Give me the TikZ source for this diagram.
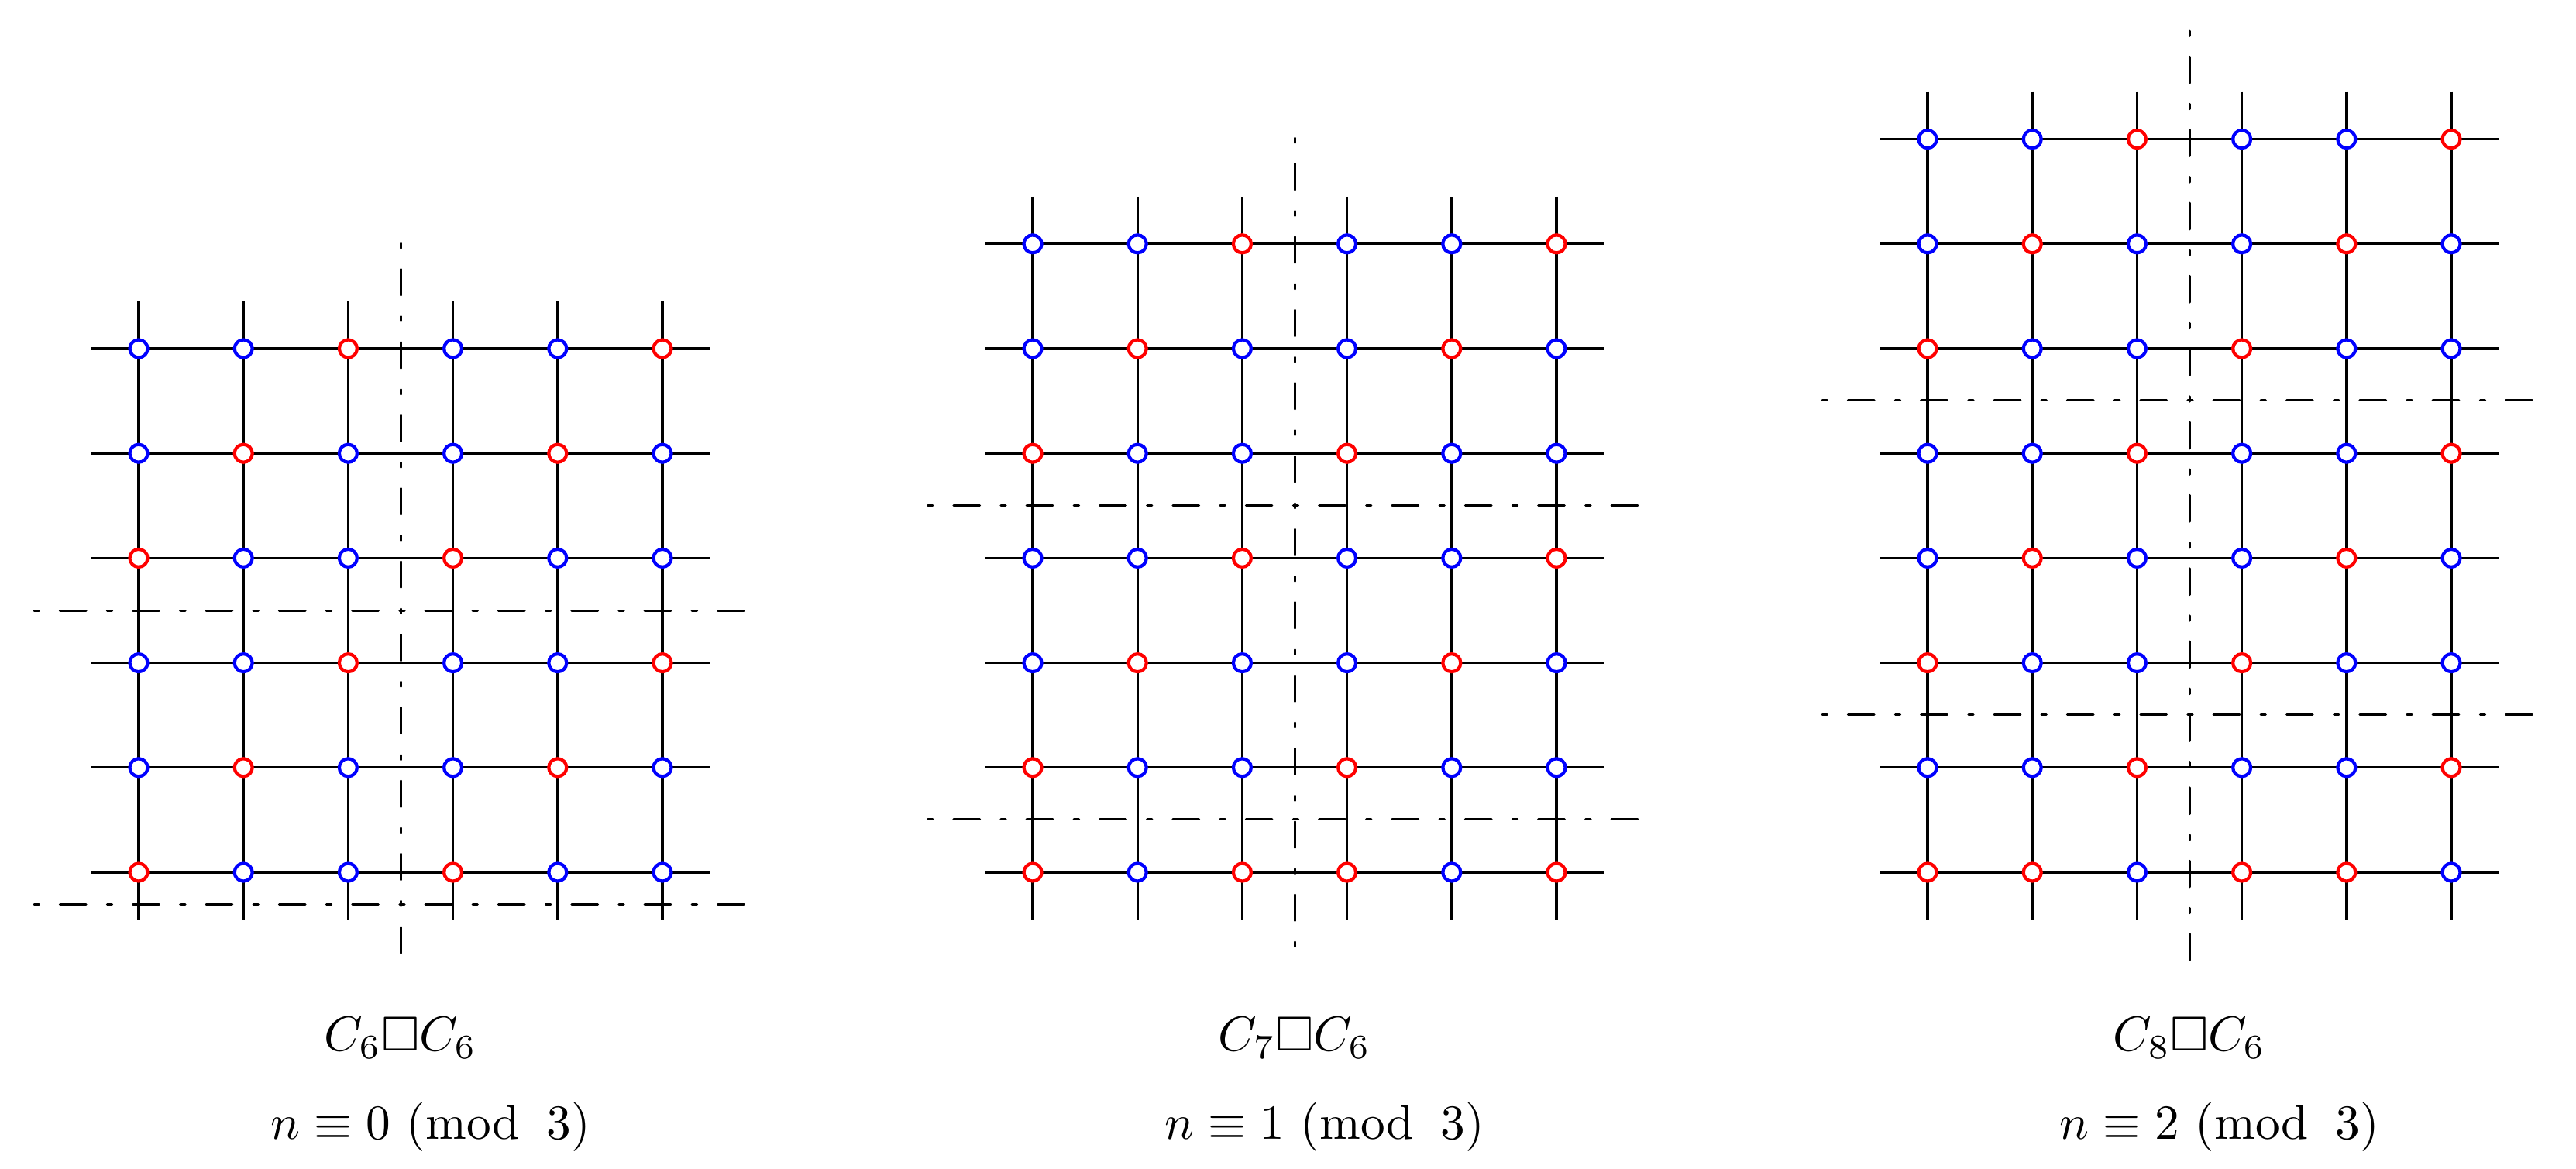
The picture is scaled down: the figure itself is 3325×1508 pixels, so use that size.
\documentclass[tikz,border=0pt]{standalone}
\usepackage{amssymb}
\usetikzlibrary{backgrounds}
\tikzset{
  vtx/.style={circle, line width=1.2pt, fill=white, minimum size=0.23cm, inner sep=0pt, outer sep=0pt},
  vb/.style={vtx, draw=blue},
  vr/.style={vtx, draw=red},
  gridline/.style={line width=0.95pt, draw=black},
  symline/.style={line width=0.85pt, draw=black, line cap=round, dash pattern=on 0.063cm off 0.27cm on 0.337cm off 0.273cm},
  lbl/.style={anchor=base, inner sep=0pt, scale=1.8},
}
\begin{document}
\begin{tikzpicture}[x=0.01cm, y=-0.01cm]
\useasboundingbox (0,0) rectangle (3325,1508);

% ---------- Grid 1: C6 x C6 ----------
\foreach \row [count=\i] in {{b,b,r,b,b,r},{b,r,b,b,r,b},{r,b,b,r,b,b},{b,b,r,b,b,r},{b,r,b,b,r,b},{r,b,b,r,b,b}}{
  \foreach \c [count=\j] in \row {
    \node[v\c] (a-\i-\j) at ({179+135.2*(\j-1)},{1126-135.2*(6-\i)}) {};
  }
}
\begin{scope}[on background layer]
\foreach \i in {1,...,6} \draw[gridline] ([xshift=-0.61cm]a-\i-1.center) -- ([xshift=0.61cm]a-\i-6.center);
\foreach \j in {1,...,6} \draw[gridline] ([yshift=0.61cm]a-1-\j.center) -- ([yshift=-0.61cm]a-6-\j.center);
\end{scope}
\coordinate (a-vt) at (517,314);
\coordinate (a-vb) at (517,1242.5);
\coordinate (a-h1l) at (44,788.4);
\coordinate (a-h1r) at (971,788.4);
\coordinate (a-h2l) at (44,1167.5);
\coordinate (a-h2r) at (971,1167.5);
\draw[symline] (a-vt) -- (a-vb);
\draw[symline] (a-h1l) -- (a-h1r);
\draw[symline] (a-h2l) -- (a-h2r);
\node[lbl] (a-name) at (517,1356.7) {$C_6\square C_6$};
\node[lbl] (a-mod) at (556,1470) {$n\equiv 0\,\,(\mathrm{mod}\;\;3)$};

% ---------- Grid 2: C7 x C6 ----------
\foreach \row [count=\i] in {{b,b,r,b,b,r},{b,r,b,b,r,b},{r,b,b,r,b,b},{b,b,r,b,b,r},{b,r,b,b,r,b},{r,b,b,r,b,b},{r,b,r,r,b,r}}{
  \foreach \c [count=\j] in \row {
    \node[v\c] (b-\i-\j) at ({1333+135.2*(\j-1)},{1126-135.2*(7-\i)}) {};
  }
}
\begin{scope}[on background layer]
\foreach \i in {1,...,7} \draw[gridline] ([xshift=-0.61cm]b-\i-1.center) -- ([xshift=0.61cm]b-\i-6.center);
\foreach \j in {1,...,6} \draw[gridline] ([yshift=0.61cm]b-1-\j.center) -- ([yshift=-0.61cm]b-7-\j.center);
\end{scope}
\coordinate (b-vt) at (1671,178);
\coordinate (b-vb) at (1671,1236);
\coordinate (b-h1l) at (1197.5,652.6);
\coordinate (b-h1r) at (2127,652.6);
\coordinate (b-h2l) at (1197.5,1057.6);
\coordinate (b-h2r) at (2127,1057.6);
\draw[symline] (b-vt) -- (b-vb);
\draw[symline] (b-h1l) -- (b-h1r);
\draw[symline] (b-h2l) -- (b-h2r);
\node[lbl] (b-name) at (1671,1356.7) {$C_7\square C_6$};
\node[lbl] (b-mod) at (1710,1470) {$n\equiv 1\,\,(\mathrm{mod}\;\;3)$};

% ---------- Grid 3: C8 x C6 ----------
\foreach \row [count=\i] in {{b,b,r,b,b,r},{b,r,b,b,r,b},{r,b,b,r,b,b},{b,b,r,b,b,r},{b,r,b,b,r,b},{r,b,b,r,b,b},{b,b,r,b,b,r},{r,r,b,r,r,b}}{
  \foreach \c [count=\j] in \row {
    \node[v\c] (c-\i-\j) at ({2488+135.2*(\j-1)},{1126-135.2*(8-\i)}) {};
  }
}
\begin{scope}[on background layer]
\foreach \i in {1,...,8} \draw[gridline] ([xshift=-0.61cm]c-\i-1.center) -- ([xshift=0.61cm]c-\i-6.center);
\foreach \j in {1,...,6} \draw[gridline] ([yshift=0.61cm]c-1-\j.center) -- ([yshift=-0.61cm]c-8-\j.center);
\end{scope}
\coordinate (c-vt) at (2826,40);
\coordinate (c-vb) at (2826,1257);
\coordinate (c-h1l) at (2352,516.5);
\coordinate (c-h1r) at (3281,516.5);
\coordinate (c-h2l) at (2352,922);
\coordinate (c-h2r) at (3281,922);
\draw[symline] (c-vt) -- (c-vb);
\draw[symline] (c-h1l) -- (c-h1r);
\draw[symline] (c-h2l) -- (c-h2r);
\node[lbl] (c-name) at (2826,1356.7) {$C_8\square C_6$};
\node[lbl] (c-mod) at (2865,1470) {$n\equiv 2\,\,(\mathrm{mod}\;\;3)$};
\end{tikzpicture}
\end{document}
